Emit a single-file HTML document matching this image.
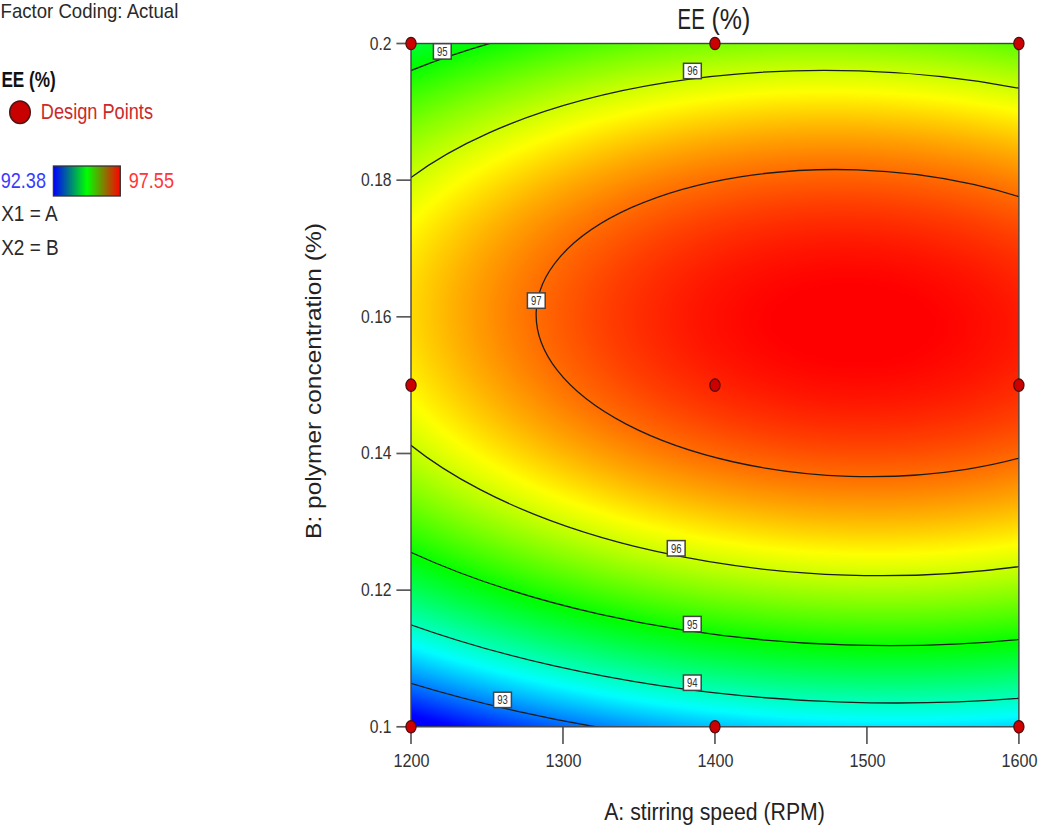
<!DOCTYPE html>
<html><head><meta charset="utf-8"><title>EE (%)</title>
<style>html,body{margin:0;padding:0;background:#fff;overflow:hidden}svg{display:block;font-family:"Liberation Sans",sans-serif}</style>
</head><body>
<svg width="1038" height="828" viewBox="0 0 1038 828">
<defs>
<radialGradient id="g" gradientUnits="userSpaceOnUse" cx="0" cy="0" r="2.6" fx="0" fy="0" gradientTransform="matrix(-414.1010 -13.3890 5.1228 -200.1836 853.108 323.055)"><stop offset="0.00000" stop-color="#ff0000"/><stop offset="0.00625" stop-color="#ff0000"/><stop offset="0.01250" stop-color="#ff0000"/><stop offset="0.01875" stop-color="#ff0000"/><stop offset="0.02500" stop-color="#ff0000"/><stop offset="0.03125" stop-color="#ff0000"/><stop offset="0.03750" stop-color="#ff0000"/><stop offset="0.04375" stop-color="#ff0000"/><stop offset="0.05000" stop-color="#ff0000"/><stop offset="0.05625" stop-color="#ff0000"/><stop offset="0.06250" stop-color="#ff0000"/><stop offset="0.06875" stop-color="#ff0000"/><stop offset="0.07500" stop-color="#ff0000"/><stop offset="0.08125" stop-color="#ff0200"/><stop offset="0.08750" stop-color="#ff0300"/><stop offset="0.09375" stop-color="#ff0500"/><stop offset="0.10000" stop-color="#ff0600"/><stop offset="0.10625" stop-color="#ff0800"/><stop offset="0.11250" stop-color="#ff0a00"/><stop offset="0.11875" stop-color="#ff0c00"/><stop offset="0.12500" stop-color="#ff0e00"/><stop offset="0.13125" stop-color="#ff1000"/><stop offset="0.13750" stop-color="#ff1200"/><stop offset="0.14375" stop-color="#ff1400"/><stop offset="0.15000" stop-color="#ff1700"/><stop offset="0.15625" stop-color="#ff1900"/><stop offset="0.16250" stop-color="#ff1c00"/><stop offset="0.16875" stop-color="#ff1f00"/><stop offset="0.17500" stop-color="#ff2200"/><stop offset="0.18125" stop-color="#ff2500"/><stop offset="0.18750" stop-color="#ff2800"/><stop offset="0.19375" stop-color="#ff2b00"/><stop offset="0.20000" stop-color="#ff2e00"/><stop offset="0.20625" stop-color="#ff3200"/><stop offset="0.21250" stop-color="#ff3500"/><stop offset="0.21875" stop-color="#ff3900"/><stop offset="0.22500" stop-color="#ff3c00"/><stop offset="0.23125" stop-color="#ff4000"/><stop offset="0.23750" stop-color="#ff4400"/><stop offset="0.24375" stop-color="#ff4800"/><stop offset="0.25000" stop-color="#ff4c00"/><stop offset="0.25625" stop-color="#ff5100"/><stop offset="0.26250" stop-color="#ff5500"/><stop offset="0.26875" stop-color="#ff5900"/><stop offset="0.27500" stop-color="#ff5e00"/><stop offset="0.28125" stop-color="#ff6200"/><stop offset="0.28750" stop-color="#ff6700"/><stop offset="0.29375" stop-color="#ff6c00"/><stop offset="0.30000" stop-color="#ff7100"/><stop offset="0.30625" stop-color="#ff7600"/><stop offset="0.31250" stop-color="#ff7b00"/><stop offset="0.31875" stop-color="#ff8000"/><stop offset="0.32500" stop-color="#ff8600"/><stop offset="0.33125" stop-color="#ff8b00"/><stop offset="0.33750" stop-color="#ff9100"/><stop offset="0.34375" stop-color="#ff9700"/><stop offset="0.35000" stop-color="#ff9c00"/><stop offset="0.35625" stop-color="#ffa200"/><stop offset="0.36250" stop-color="#ffa800"/><stop offset="0.36875" stop-color="#ffae00"/><stop offset="0.37500" stop-color="#ffb400"/><stop offset="0.38125" stop-color="#ffbb00"/><stop offset="0.38750" stop-color="#ffc100"/><stop offset="0.39375" stop-color="#ffc800"/><stop offset="0.40000" stop-color="#ffce00"/><stop offset="0.40625" stop-color="#ffd500"/><stop offset="0.41250" stop-color="#ffdc00"/><stop offset="0.41875" stop-color="#ffe300"/><stop offset="0.42500" stop-color="#ffea00"/><stop offset="0.43125" stop-color="#fff100"/><stop offset="0.43750" stop-color="#fff800"/><stop offset="0.44375" stop-color="#feff00"/><stop offset="0.45000" stop-color="#f7ff00"/><stop offset="0.45625" stop-color="#efff00"/><stop offset="0.46250" stop-color="#e8ff00"/><stop offset="0.46875" stop-color="#e0ff00"/><stop offset="0.47500" stop-color="#d8ff00"/><stop offset="0.48125" stop-color="#d0ff00"/><stop offset="0.48750" stop-color="#c8ff00"/><stop offset="0.49375" stop-color="#c0ff00"/><stop offset="0.50000" stop-color="#b8ff00"/><stop offset="0.50625" stop-color="#afff00"/><stop offset="0.51250" stop-color="#a7ff00"/><stop offset="0.51875" stop-color="#9eff00"/><stop offset="0.52500" stop-color="#95ff00"/><stop offset="0.53125" stop-color="#8dff00"/><stop offset="0.53750" stop-color="#84ff00"/><stop offset="0.54375" stop-color="#7bff00"/><stop offset="0.55000" stop-color="#72ff00"/><stop offset="0.55625" stop-color="#68ff00"/><stop offset="0.56250" stop-color="#5fff00"/><stop offset="0.56875" stop-color="#56ff00"/><stop offset="0.57500" stop-color="#4cff00"/><stop offset="0.58125" stop-color="#42ff00"/><stop offset="0.58750" stop-color="#39ff00"/><stop offset="0.59375" stop-color="#2fff00"/><stop offset="0.60000" stop-color="#25ff00"/><stop offset="0.60625" stop-color="#1bff00"/><stop offset="0.61250" stop-color="#11ff00"/><stop offset="0.61875" stop-color="#06ff00"/><stop offset="0.62500" stop-color="#00ff04"/><stop offset="0.63125" stop-color="#00ff0e"/><stop offset="0.63750" stop-color="#00ff19"/><stop offset="0.64375" stop-color="#00ff24"/><stop offset="0.65000" stop-color="#00ff2e"/><stop offset="0.65625" stop-color="#00ff39"/><stop offset="0.66250" stop-color="#00ff44"/><stop offset="0.66875" stop-color="#00ff4f"/><stop offset="0.67500" stop-color="#00ff5b"/><stop offset="0.68125" stop-color="#00ff66"/><stop offset="0.68750" stop-color="#00ff71"/><stop offset="0.69375" stop-color="#00ff7d"/><stop offset="0.70000" stop-color="#00ff88"/><stop offset="0.70625" stop-color="#00ff94"/><stop offset="0.71250" stop-color="#00ffa0"/><stop offset="0.71875" stop-color="#00ffac"/><stop offset="0.72500" stop-color="#00ffb8"/><stop offset="0.73125" stop-color="#00ffc4"/><stop offset="0.73750" stop-color="#00ffd0"/><stop offset="0.74375" stop-color="#00ffdd"/><stop offset="0.75000" stop-color="#00ffe9"/><stop offset="0.75625" stop-color="#00fff6"/><stop offset="0.76250" stop-color="#00fcff"/><stop offset="0.76875" stop-color="#00efff"/><stop offset="0.77500" stop-color="#00e2ff"/><stop offset="0.78125" stop-color="#00d5ff"/><stop offset="0.78750" stop-color="#00c8ff"/><stop offset="0.79375" stop-color="#00bbff"/><stop offset="0.80000" stop-color="#00aeff"/><stop offset="0.80625" stop-color="#00a0ff"/><stop offset="0.81250" stop-color="#0093ff"/><stop offset="0.81875" stop-color="#0085ff"/><stop offset="0.82500" stop-color="#0077ff"/><stop offset="0.83125" stop-color="#006aff"/><stop offset="0.83750" stop-color="#005cff"/><stop offset="0.84375" stop-color="#004eff"/><stop offset="0.85000" stop-color="#003fff"/><stop offset="0.85625" stop-color="#0031ff"/><stop offset="0.86250" stop-color="#0023ff"/><stop offset="0.86875" stop-color="#0014ff"/><stop offset="0.87500" stop-color="#0006ff"/><stop offset="0.88125" stop-color="#0000ff"/><stop offset="0.88750" stop-color="#0000ff"/><stop offset="0.89375" stop-color="#0000ff"/><stop offset="0.90000" stop-color="#0000ff"/><stop offset="0.90625" stop-color="#0000ff"/><stop offset="0.91250" stop-color="#0000ff"/><stop offset="0.91875" stop-color="#0000ff"/><stop offset="0.92500" stop-color="#0000ff"/><stop offset="0.93125" stop-color="#0000ff"/><stop offset="0.93750" stop-color="#0000ff"/><stop offset="0.94375" stop-color="#0000ff"/><stop offset="0.95000" stop-color="#0000ff"/><stop offset="0.95625" stop-color="#0000ff"/><stop offset="0.96250" stop-color="#0000ff"/><stop offset="0.96875" stop-color="#0000ff"/><stop offset="0.97500" stop-color="#0000ff"/><stop offset="0.98125" stop-color="#0000ff"/><stop offset="0.98750" stop-color="#0000ff"/><stop offset="0.99375" stop-color="#0000ff"/><stop offset="1.00000" stop-color="#0000ff"/></radialGradient>
<linearGradient id="lg" x1="0" x2="1" y1="0" y2="0"><stop offset="0" stop-color="#0000ff"/><stop offset="0.5" stop-color="#00ff00"/><stop offset="1" stop-color="#ff0000"/></linearGradient>
<clipPath id="cp"><rect x="411.0" y="43.5" width="607.9" height="683.3"/></clipPath>
</defs>
<rect width="1038" height="828" fill="#fff"/>
<rect x="411.0" y="43.5" width="607.9" height="683.3" fill="url(#g)"/>
<g clip-path="url(#cp)" fill="none" stroke="#1c1c1c" stroke-width="1.3" style="vector-effect:non-scaling-stroke"><circle vector-effect="non-scaling-stroke" cx="0" cy="0" r="2.14146" transform="matrix(-414.1010 -13.3890 5.1228 -200.1836 853.108 323.055)"/><circle vector-effect="non-scaling-stroke" cx="0" cy="0" r="1.89363" transform="matrix(-414.1010 -13.3890 5.1228 -200.1836 853.108 323.055)"/><circle vector-effect="non-scaling-stroke" cx="0" cy="0" r="1.60805" transform="matrix(-414.1010 -13.3890 5.1228 -200.1836 853.108 323.055)"/><circle vector-effect="non-scaling-stroke" cx="0" cy="0" r="1.25930" transform="matrix(-414.1010 -13.3890 5.1228 -200.1836 853.108 323.055)"/><circle vector-effect="non-scaling-stroke" cx="0" cy="0" r="0.76540" transform="matrix(-414.1010 -13.3890 5.1228 -200.1836 853.108 323.055)"/></g>
<g stroke="#5a5a5a" stroke-width="1.7"><line x1="396.4" x2="411.0" y1="43.50" y2="43.50"/><line x1="396.4" x2="411.0" y1="180.16" y2="180.16"/><line x1="396.4" x2="411.0" y1="316.82" y2="316.82"/><line x1="396.4" x2="411.0" y1="453.48" y2="453.48"/><line x1="396.4" x2="411.0" y1="590.14" y2="590.14"/><line x1="396.4" x2="411.0" y1="726.80" y2="726.80"/><line y1="726.8" y2="744" x1="411.00" x2="411.00"/><line y1="726.8" y2="744" x1="562.98" x2="562.98"/><line y1="726.8" y2="744" x1="714.95" x2="714.95"/><line y1="726.8" y2="744" x1="866.92" x2="866.92"/><line y1="726.8" y2="744" x1="1018.90" x2="1018.90"/></g>
<rect x="411.0" y="43.5" width="607.9" height="683.3" fill="none" stroke="#444" stroke-width="1.4"/>
<rect x="433.4" y="43.7" width="17.8" height="15.4" fill="#fff" stroke="#444" stroke-width="1.5"/><text transform="translate(442.3 55.8) scale(1 1.32)" font-size="9.5" fill="#333" text-anchor="middle">95</text><rect x="683.5" y="63.3" width="17.8" height="15.4" fill="#fff" stroke="#444" stroke-width="1.5"/><text transform="translate(692.4 75.4) scale(1 1.32)" font-size="9.5" fill="#333" text-anchor="middle">96</text><rect x="527.4" y="292.9" width="17.8" height="15.4" fill="#fff" stroke="#444" stroke-width="1.5"/><text transform="translate(536.3 305.0) scale(1 1.32)" font-size="9.5" fill="#333" text-anchor="middle">97</text><rect x="667.3" y="540.6" width="17.8" height="15.4" fill="#fff" stroke="#444" stroke-width="1.5"/><text transform="translate(676.2 552.7) scale(1 1.32)" font-size="9.5" fill="#333" text-anchor="middle">96</text><rect x="683.4" y="616.4" width="17.8" height="15.4" fill="#fff" stroke="#444" stroke-width="1.5"/><text transform="translate(692.3 628.5) scale(1 1.32)" font-size="9.5" fill="#333" text-anchor="middle">95</text><rect x="683.4" y="675.0" width="17.8" height="15.4" fill="#fff" stroke="#444" stroke-width="1.5"/><text transform="translate(692.3 687.1) scale(1 1.32)" font-size="9.5" fill="#333" text-anchor="middle">94</text><rect x="493.6" y="692.2" width="17.8" height="15.4" fill="#fff" stroke="#444" stroke-width="1.5"/><text transform="translate(502.5 704.3) scale(1 1.32)" font-size="9.5" fill="#333" text-anchor="middle">93</text>
<g fill="#cc0000" stroke="#4a0c0c" stroke-width="1.2"><ellipse cx="411.00" cy="43.50" rx="5.1" ry="6.2"/><ellipse cx="411.00" cy="385.15" rx="5.1" ry="6.2"/><ellipse cx="411.00" cy="726.80" rx="5.1" ry="6.2"/><ellipse cx="714.95" cy="43.50" rx="5.1" ry="6.2"/><ellipse cx="714.95" cy="385.15" rx="5.1" ry="6.2"/><ellipse cx="714.95" cy="726.80" rx="5.1" ry="6.2"/><ellipse cx="1018.90" cy="43.50" rx="5.1" ry="6.2"/><ellipse cx="1018.90" cy="385.15" rx="5.1" ry="6.2"/><ellipse cx="1018.90" cy="726.80" rx="5.1" ry="6.2"/></g>
<ellipse cx="20" cy="112.3" rx="10.3" ry="11.3" fill="#c80000" stroke="#4a1515" stroke-width="1.4"/>
<rect x="53.4" y="166.0" width="66.9" height="30.0" fill="url(#lg)" stroke="#333" stroke-width="1.3"/>
<text transform="translate(0.6 18.2) scale(1.0 1.08)" font-size="18.6" fill="#2a2a2a" text-anchor="start" font-weight="normal">Factor Coding: Actual</text><text transform="translate(1.4 87.2) scale(1.0 1.255)" font-size="17.2" fill="#111" text-anchor="start" font-weight="bold">EE (%)</text><text transform="translate(40.8 119.2) scale(1.0 1.177)" font-size="18.2" fill="#cc2a2a" text-anchor="start" font-weight="normal">Design Points</text><text transform="translate(0.7 188.1) scale(1.0 1.175)" font-size="18.1" fill="#3a3aff" text-anchor="start" font-weight="normal">92.38</text><text transform="translate(128.7 188.1) scale(1.0 1.175)" font-size="18.1" fill="#ff3535" text-anchor="start" font-weight="normal">97.55</text><text transform="translate(1.2 221.2) scale(1.0 1.16)" font-size="19.0" fill="#2a2a2a" text-anchor="start" font-weight="normal">X1 = A</text><text transform="translate(1.2 255.2) scale(1.0 1.15)" font-size="19.0" fill="#2a2a2a" text-anchor="start" font-weight="normal">X2 = B</text><text transform="translate(677.6 29.4) scale(0.9 1.27)" font-size="22.6" fill="#222" text-anchor="start" font-weight="normal">EE</text><text transform="translate(711.5 29.4) scale(1.105 1.27)" font-size="22.6" fill="#222" text-anchor="start" font-weight="normal">(%)</text><text transform="translate(714.5 819.5) scale(1.0 1.118)" font-size="21.25" fill="#222" text-anchor="middle" font-weight="normal">A: stirring speed (RPM)</text><text transform="translate(321.4 381.0) rotate(-90) scale(1.0 0.9)" font-size="24.5" fill="#222" text-anchor="middle" font-weight="normal">B: polymer concentration (%)</text><text transform="translate(391.6 49.5) scale(1.0 1.15)" font-size="15.7" fill="#333" text-anchor="end" font-weight="normal">0.2</text><text transform="translate(391.6 186.16) scale(1.0 1.15)" font-size="15.7" fill="#333" text-anchor="end" font-weight="normal">0.18</text><text transform="translate(391.6 322.82) scale(1.0 1.15)" font-size="15.7" fill="#333" text-anchor="end" font-weight="normal">0.16</text><text transform="translate(391.6 459.48) scale(1.0 1.15)" font-size="15.7" fill="#333" text-anchor="end" font-weight="normal">0.14</text><text transform="translate(391.6 596.14) scale(1.0 1.15)" font-size="15.7" fill="#333" text-anchor="end" font-weight="normal">0.12</text><text transform="translate(391.6 732.8) scale(1.0 1.15)" font-size="15.7" fill="#333" text-anchor="end" font-weight="normal">0.1</text><text transform="translate(411.5 767.4) scale(1.0 1.13)" font-size="16.2" fill="#333" text-anchor="middle" font-weight="normal">1200</text><text transform="translate(563.48 767.4) scale(1.0 1.13)" font-size="16.2" fill="#333" text-anchor="middle" font-weight="normal">1300</text><text transform="translate(715.45 767.4) scale(1.0 1.13)" font-size="16.2" fill="#333" text-anchor="middle" font-weight="normal">1400</text><text transform="translate(867.42 767.4) scale(1.0 1.13)" font-size="16.2" fill="#333" text-anchor="middle" font-weight="normal">1500</text><text transform="translate(1019.4 767.4) scale(1.0 1.13)" font-size="16.2" fill="#333" text-anchor="middle" font-weight="normal">1600</text>
</svg>
</body></html>
